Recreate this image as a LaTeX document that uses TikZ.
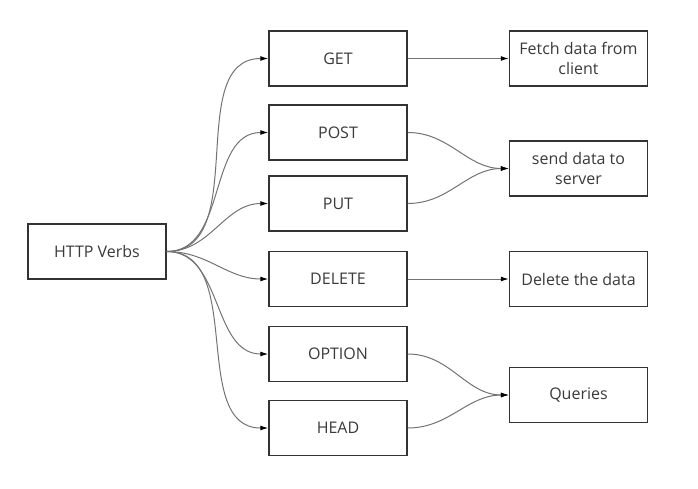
\documentclass[tikz,border=0pt]{standalone}
\usepackage{fontspec}
\setmainfont{Open Sans}
\usepackage{tikz}
\usetikzlibrary{arrows.meta}
\usetikzlibrary{positioning}
\definecolor{boxline}{HTML}{333333}
\definecolor{boxtext}{HTML}{3A3A3A}
\colorlet{linkgray}{black!55}
\tikzset{
  >=latex, % for default LaTeX arrow head
  box/.style={draw=boxline,line width=1.5pt,fill=white,text=boxtext,align=center,
    minimum width=138pt,minimum height=55pt,inner sep=1pt,font=\fontsize{16}{20.5}\selectfont},
  link/.style={-{Latex[length=8,width=5,black]},linkgray,line width=1pt}
}

\begin{document}
\begin{tikzpicture}[x=1pt,y=-1pt]
    \useasboundingbox (0,0) rectangle (698,488);

    % Root
    \node[box] (verbs) at (97,251.5) {HTTP Verbs};

    % Verbs
    \node[box] (get) at (338,58.5) {GET};
    \node[box] (post) at (338,132.5) {POST};
    \node[box] (put) at (338,203.5) {PUT};
    \node[box] (delete) at (338,279) {DELETE};
    \node[box] (option) at (338,354) {OPTION};
    \node[box] (head) at (338,428) {HEAD};

    % Meanings
    \node[box] (fetch) at (578.5,58.5) {Fetch data from\\client};
    \node[box] (send) at (578.5,168.5) {send data to\\server};
    \node[box] (deldata) at (578.5,279) {Delete the data};
    \node[box] (queries) at (578.5,395) {Queries};

    % Root to verbs
    \foreach \v in {get,post,put,delete,option,head}
        \draw[link] (verbs.east) to[out=0,in=180] (\v.west);

    % Verbs to meanings
    \draw[link] (get.east) -- (fetch.west);
    \draw[link] (post.east) to[out=0,in=180] (send.west);
    \draw[link] (put.east) to[out=0,in=180] (send.west);
    \draw[link] (delete.east) -- (deldata.west);
    \draw[link] (option.east) to[out=0,in=180] (queries.west);
    \draw[link] (head.east) to[out=0,in=180] (queries.west);
\end{tikzpicture}
\end{document}
